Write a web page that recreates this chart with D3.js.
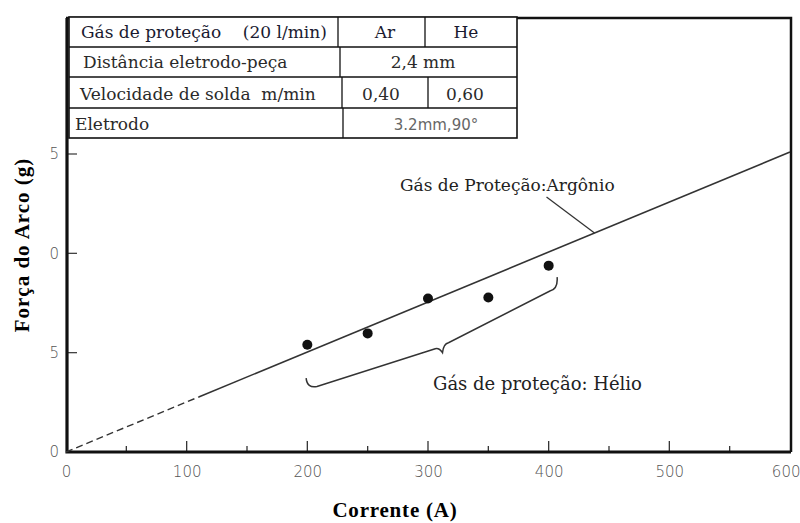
<!DOCTYPE html>
<html>
<head>
<meta charset="utf-8">
<script src="https://cdn.jsdelivr.net/npm/d3@7"></script>
<style>
  body { margin: 0; background: #fff; }
  svg { display: block; }
  .serif { font-family: "DejaVu Serif", "Liberation Serif", serif; }
  .title { font-family: "Liberation Serif", "DejaVu Serif", serif; font-weight: bold; }
  .tick text { font-family: "DejaVu Sans", sans-serif; font-weight: 200; fill: #555; }
</style>
</head>
<body>
<div id="chart"></div>
<script>
// chart values
var currentTicks = [0, 100, 200, 300, 400, 500, 600];
var currentMinor = [50, 150, 250, 350, 450, 550];
var forceTicks = [0, 5, 10, 15];
var forceTickLabels = ["0", "5", "0", "5"];   // leading digits are cut off in the original

// argon line (dashed first part, extrapolated to origin)
var argonCurrent = [0, 110, 600];
var argonForce = [0, 2.77, 15.1];

// helium measurements
var heliumCurrent = [200, 250, 300, 350, 400];
var heliumForce = [5.4, 5.97, 7.73, 7.78, 9.38];

// curly brace under the helium points
var braceCurrent = [199, 208, 306, 312, 317, 401, 407];
var braceForce = [3.72, 3.3, 5.2, 5.0, 5.5, 8.1, 8.8];

// table of test conditions
var tableRows = [
    ["Gás de proteção    (20 l/min)", "Ar", "He"],
    ["Distância eletrodo-peça", "2,4 mm"],
    ["Velocidade de solda  m/min", "0,40", "0,60"],
    ["Eletrodo", "3.2mm,90°"]
];

var width = 800, height = 523;
var frameTop = 18;

var x = d3.scaleLinear().domain([0, 600]).range([66, 790]);
var y = d3.scaleLinear().domain([0, 15]).range([452, 154]);

var svg = d3.select("#chart").append("svg")
    .attr("width", width)
    .attr("height", height);

// frame (top + right)
svg.append("path")
    .attr("d", "M" + x(0) + "," + frameTop + "H" + (x(600) + 1) + "V" + y(0))
    .attr("fill", "none")
    .attr("stroke", "#111")
    .attr("stroke-width", 2.5);

// x axis
var xAxis = svg.append("g")
    .attr("class", "axis x")
    .attr("transform", "translate(0," + y(0) + ")")
    .call(d3.axisBottom(x).tickValues(currentTicks).tickSize(0).tickPadding(20));
xAxis.select(".domain").remove();
xAxis.selectAll("text").style("font-size", "15px").attr("dy", "0.35em");
xAxis.selectAll(".tick:last-of-type text").attr("text-anchor", "end").attr("x", 10);

// major and minor ticks pointing up into the plot
svg.append("g").selectAll("line")
    .data(currentTicks.slice(1, -1))
    .join("line")
    .attr("x1", function(d) { return x(d); })
    .attr("x2", function(d) { return x(d); })
    .attr("y1", y(0))
    .attr("y2", y(0) - 11)
    .attr("stroke", "#333")
    .attr("stroke-width", 1.3);
svg.append("g").selectAll("line")
    .data(currentMinor)
    .join("line")
    .attr("x1", function(d) { return x(d); })
    .attr("x2", function(d) { return x(d); })
    .attr("y1", y(0))
    .attr("y2", y(0) - 6)
    .attr("stroke", "#333")
    .attr("stroke-width", 1.3);

// y axis
var yAxis = svg.append("g")
    .attr("class", "axis y")
    .attr("transform", "translate(" + x(0) + ",0)")
    .call(d3.axisLeft(y).tickValues(forceTicks)
        .tickFormat(function(d, i) { return forceTickLabels[i]; })
        .tickSize(0).tickPadding(7));
yAxis.select(".domain").remove();
yAxis.selectAll("text").style("font-size", "15px");

svg.append("g").selectAll("line")
    .data(forceTicks.slice(1))
    .join("line")
    .attr("x1", x(0))
    .attr("x2", x(0) + 11)
    .attr("y1", function(d) { return y(d); })
    .attr("y2", function(d) { return y(d); })
    .attr("stroke", "#444")
    .attr("stroke-width", 1.3);

// axis lines (thick)
svg.append("path")
    .attr("d", "M" + (x(0) + 1) + "," + frameTop + "V" + y(0) + "H" + (x(600) + 1))
    .attr("fill", "none")
    .attr("stroke", "#111")
    .attr("stroke-width", 3.2);

// argon line
var line = d3.line()
    .x(function(d) { return x(d[0]); })
    .y(function(d) { return y(d[1]); });
var argon = argonCurrent.map(function(c, i) { return [c, argonForce[i]]; });

svg.append("path")
    .attr("d", line(argon.slice(0, 2)))
    .attr("fill", "none")
    .attr("stroke", "#333")
    .attr("stroke-width", 1.4)
    .attr("stroke-dasharray", "7,4");
svg.append("path")
    .attr("d", line(argon.slice(1)))
    .attr("fill", "none")
    .attr("stroke", "#333")
    .attr("stroke-width", 1.6);

// helium points
svg.append("g").selectAll("circle")
    .data(heliumCurrent)
    .join("circle")
    .attr("cx", function(d) { return x(d); })
    .attr("cy", function(d, i) { return y(heliumForce[i]); })
    .attr("r", 5)
    .attr("fill", "#111");

// brace
var bp = braceCurrent.map(function(c, i) { return [x(c), y(braceForce[i])]; });
var braceD = "M" + bp[0] + " Q" + (bp[0][0] + 1) + "," + (bp[1][1] + 2) + " " + bp[1] +
    " L" + bp[2] + " Q" + (bp[2][0] + 4) + "," + (bp[2][1] - 1) + " " + bp[3] +
    " Q" + (bp[3][0] + 1) + "," + (bp[4][1] + 1) + " " + bp[4] +
    " L" + bp[5] + " Q" + (bp[6][0] + 1) + "," + (bp[5][1] - 2) + " " + bp[6];
svg.append("path")
    .attr("d", braceD)
    .attr("fill", "none")
    .attr("stroke", "#333")
    .attr("stroke-width", 1.5);

// annotations
var argonJoin = 438;
svg.append("line")
    .attr("x1", x(argonJoin) - 48)
    .attr("y1", y(argonJoin * 15.1 / 600) - 36)
    .attr("x2", x(argonJoin))
    .attr("y2", y(argonJoin * 15.1 / 600))
    .attr("stroke", "#333")
    .attr("stroke-width", 1.3);
svg.append("text")
    .attr("class", "serif")
    .attr("x", 400)
    .attr("y", 191)
    .style("font-size", "17px")
    .attr("fill", "#222")
    .text("Gás de Proteção:Argônio");
svg.append("text")
    .attr("class", "serif")
    .attr("x", 433)
    .attr("y", 390)
    .style("font-size", "18px")
    .attr("fill", "#222")
    .text("Gás de proteção: Hélio");

// axis titles
svg.append("text")
    .attr("class", "title")
    .attr("transform", "translate(29,245) rotate(-90)")
    .attr("text-anchor", "middle")
    .style("font-size", "21px")
    .style("letter-spacing", "1px")
    .text("Força do Arco (g)");
svg.append("text")
    .attr("class", "title")
    .attr("x", 395)
    .attr("y", 517)
    .attr("text-anchor", "middle")
    .style("font-size", "21px")
    .style("letter-spacing", "0.8px")
    .text("Corrente (A)");

// condition table
var rowY = [17, 47, 77, 108, 138];
var tableRight = 517;
var table = svg.append("g").attr("class", "serif");
table.append("rect")
    .attr("x", 69).attr("y", rowY[0])
    .attr("width", tableRight - 69).attr("height", rowY[4] - rowY[0])
    .attr("fill", "#fff")
    .attr("stroke", "#111")
    .attr("stroke-width", 1.6);
rowY.slice(1, 4).forEach(function(yy) {
    table.append("line")
        .attr("x1", 69).attr("x2", tableRight)
        .attr("y1", yy).attr("y2", yy)
        .attr("stroke", "#111").attr("stroke-width", 1.5);
});
// column dividers [x, row]
[[338, 0], [425, 0], [340, 1], [342, 2], [428, 2], [343, 3]].forEach(function(c) {
    table.append("line")
        .attr("x1", c[0]).attr("x2", c[0])
        .attr("y1", rowY[c[1]]).attr("y2", rowY[c[1] + 1])
        .attr("stroke", "#111").attr("stroke-width", 1.3);
});

var cellX = [[81, 385, 466], [83, 423], [80, 381, 465], [75, 436]];
var baseY = [38, 68, 100, 130];
tableRows.forEach(function(row, r) {
    row.forEach(function(t, c) {
        var small = r === 3 && c === 1;
        table.append("text")
            .attr("x", cellX[r][c])
            .attr("y", baseY[r])
            .attr("text-anchor", c === 0 ? "start" : "middle")
            .attr("xml:space", "preserve")
            .style("white-space", "pre")
            .style("font-family", small ? "'DejaVu Sans', sans-serif" : null)
            .style("font-size", small ? "15px" : "17px")
            .attr("fill", small ? "#666" : (r === 0 ? "#1a1a30" : "#2a2a2a"))
            .text(t);
    });
});
</script>
</body>
</html>
